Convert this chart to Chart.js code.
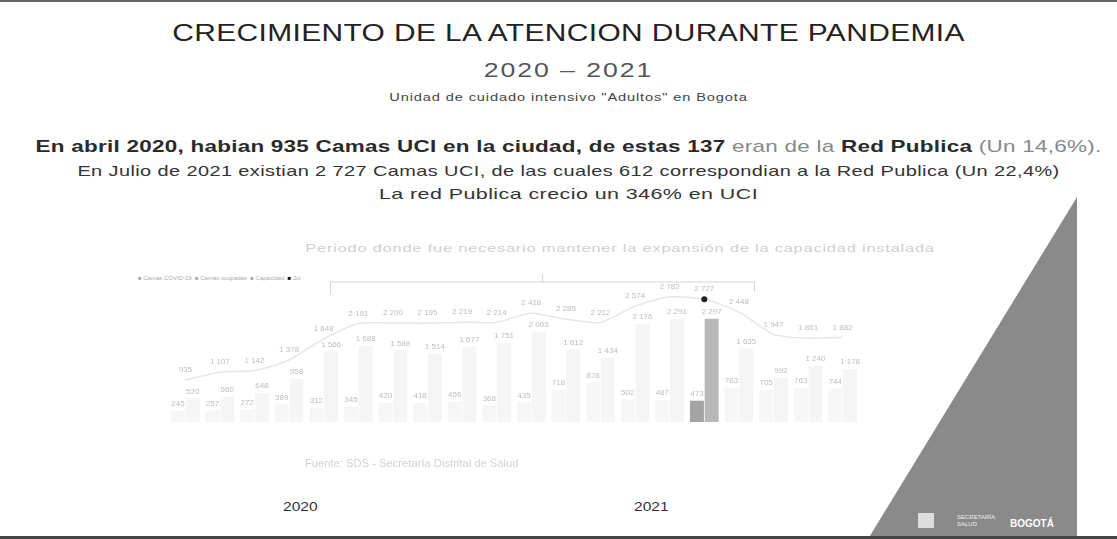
<!DOCTYPE html>
<html>
<head>
<meta charset="utf-8">
<script src="https://cdn.jsdelivr.net/npm/chart.js@4.4.1/dist/chart.umd.min.js"></script>
<style>
  body { margin: 0; background: #fff; }
  #slide {
    position: relative; width: 1117px; height: 539px; overflow: hidden;
    background: #fff; font-family: "Liberation Sans", Arial, sans-serif; color: #222;
    box-sizing: border-box; border-top: 2px solid #666; border-bottom: 3px solid #444;
  }
  .t { position: absolute; left: 10px; width: 1117px; text-align: center; white-space: nowrap; transform-origin: 50% 50%; }
  #titulo { top: 18px; font-size: 23px; letter-spacing: 0.3px; transform: scaleX(1.30); }
  #anios { top: 56px; font-size: 21px; color: #555; letter-spacing: 1.5px; transform: scaleX(1.27); }
  #unidad { top: 90px; font-size: 10px; color: #444; letter-spacing: 0.6px; transform: scaleX(1.46); }
  #linea1 { top: 135px; font-size: 17px; font-weight: bold; color: #2a2a2a; letter-spacing: 0.2px; transform: scaleX(1.32); }
  #linea2 { top: 160px; font-size: 15px; color: #333; letter-spacing: 0.3px; transform: scaleX(1.33); }
  #linea3 { top: 183px; font-size: 15px; color: #333; letter-spacing: 0.3px; transform: scaleX(1.43); }
  .claro { color: #888; font-weight: normal; }
  #periodo { top: 240px; left: 290px; width: 660px; font-size: 11px; color: #cfcfcf; letter-spacing: 0.5px; transform: scaleX(1.5); }
  #leyenda { position: absolute; left: 138px; top: 273px; font-size: 6px; color: #aaa; white-space: nowrap; }
  #leyenda b { color: #111; }
  #fuente { position: absolute; left: 305px; top: 456px; font-size: 10px; color: #d2d2d2; white-space: nowrap; transform-origin: 0 50%; transform: scaleX(1.12); }
  .anio { position: absolute; top: 497px; font-size: 13px; color: #333; transform-origin: 0 50%; transform: scaleX(1.2); }
  #grafico { position: absolute; left: 120px; top: 230px; width: 760px; height: 240px; }
  #triangulo {
    position: absolute; left: 868px; top: 195px; width: 209px; height: 342px;
    background: #8a8a8a; clip-path: polygon(100% 0, 100% 100%, 0 100%);
  }
  .logo { position: absolute; color: #eee; white-space: nowrap; }
</style>
</head>
<body>
<div id="slide">
  <div class="t" id="titulo">CRECIMIENTO DE LA ATENCION DURANTE PANDEMIA</div>
  <div class="t" id="anios">2020 – 2021</div>
  <div class="t" id="unidad">Unidad de cuidado intensivo "Adultos" en Bogota</div>
  <div class="t" id="linea1">En abril 2020, habian 935 Camas UCI en la ciudad, de estas 137 <span class="claro">eran de la</span> Red Publica <span class="claro">(Un 14,6%).</span></div>
  <div class="t" id="linea2">En Julio de 2021 existian 2 727 Camas UCI, de las cuales 612 correspondian a la Red Publica (Un 22,4%)</div>
  <div class="t" id="linea3">La red Publica crecio un 346% en UCI</div>

  <div id="triangulo"></div>
  <div class="logo" style="left:918px;top:511px;width:16px;height:15px;background:#ddd;"></div>
  <div class="logo" style="left:957px;top:512px;font-size:6px;line-height:7px;">SECRETARÍA<br>SALUD</div>
  <div class="logo" style="left:1010px;top:516px;font-size:10px;font-weight:bold;color:#fff;">BOGOTÁ</div>

  <div class="t" id="periodo">Periodo donde fue necesario mantener la expansión de la capacidad instalada</div>
  <div id="leyenda">■ Camas COVID-19 &nbsp;■ Camas ocupadas &nbsp;■ Capacidad &nbsp;<b>■</b> Jul</div>
  <div id="grafico"><canvas id="ucis"></canvas></div>
  <div id="fuente">Fuente: SDS - Secretaría Distrital de Salud</div>
  <div class="anio" style="left:283px;">2020</div>
  <div class="anio" style="left:634px;">2021</div>
</div>

<script>
// meses de abril 2020 a noviembre 2021
const meses = ['abr 2020', 'may 2020', 'jun 2020', 'jul 2020', 'ago 2020', 'sep 2020', 'oct 2020', 'nov 2020', 'dic 2020',
  'ene 2021', 'feb 2021', 'mar 2021', 'abr 2021', 'may 2021', 'jun 2021', 'jul 2021', 'ago 2021', 'sep 2021', 'oct 2021', 'nov 2021'];
const capacidadInstalada = [935, 1107, 1142, 1378, 1848, 2191, 2200, 2195, 2219, 2214, 2418, 2285, 2212, 2574, 2782, 2727, 2448, 1947, 1861, 1882];
const camasOcupadas = [520, 560, 648, 958, 1566, 1688, 1588, 1514, 1677, 1751, 2003, 1612, 1434, 2176, 2291, 2297, 1635, 992, 1240, 1178];
const ocupadasCovid = [245, 257, 272, 389, 312, 345, 420, 418, 456, 368, 435, 718, 878, 502, 487, 473, 763, 705, 763, 744];
const mesDestacado = 15; // julio 2021

function colores(normal, destacado) {
  return meses.map((m, i) => i === mesDestacado ? destacado : normal);
}

function formato(v) {
  if (v < 1000) return String(v);
  const resto = String(v % 1000).padStart(3, '0');
  return Math.floor(v / 1000) + ' ' + resto;
}

// etiquetas de valor encima de cada marca
const etiquetas = {
  id: 'etiquetas',
  afterDatasetsDraw(chart) {
    const ctx = chart.ctx;
    ctx.save();
    ctx.font = '8px "Liberation Sans", Arial';
    ctx.fillStyle = '#bdbdbd';
    ctx.textAlign = 'center';
    ctx.textBaseline = 'bottom';
    chart.data.datasets.forEach((ds, d) => {
      const meta = chart.getDatasetMeta(d);
      meta.data.forEach((el, i) => {
        const off = ds.type === 'line' ? 6 : 3;
        ctx.fillText(formato(ds.data[i]), el.x, el.y - off);
      });
    });
    ctx.restore();
  }
};

// llave sobre el periodo de expansion
const llave = {
  id: 'llave',
  afterDraw(chart) {
    const x = chart.scales.x, top = chart.chartArea.top;
    const paso = x.getPixelForValue(1) - x.getPixelForValue(0);
    const x0 = x.getPixelForValue(4) + paso * 0.2;
    const x1 = x.getPixelForValue(16) + paso * 0.45;
    const y = top - 5;
    const ctx = chart.ctx;
    ctx.save();
    ctx.strokeStyle = '#d4d4d4';
    ctx.lineWidth = 1;
    ctx.beginPath();
    ctx.moveTo(x0, y + 12); ctx.lineTo(x0, y); ctx.lineTo(x1, y); ctx.lineTo(x1, y + 10);
    const xm = (x0 + x1) / 2;
    ctx.moveTo(xm, y); ctx.lineTo(xm, y - 8);
    ctx.stroke();
    ctx.restore();
  }
};

new Chart(document.getElementById('ucis'), {
  data: {
    labels: meses,
    datasets: [
      {
        type: 'line',
        label: 'Capacidad instalada',
        data: capacidadInstalada,
        borderColor: '#e6e6e6',
        borderWidth: 1.5,
        tension: 0.2,
        pointRadius: colores(0, 3),
        pointBackgroundColor: '#222',
        pointBorderWidth: 0,
        order: 0
      },
      {
        type: 'bar',
        label: 'Camas UCI ocupadas COVID-19',
        data: ocupadasCovid,
        backgroundColor: colores('#f6f6f6', '#a4a4a4'),
        categoryPercentage: 0.85,
        barPercentage: 0.95,
        order: 1
      },
      {
        type: 'bar',
        label: 'Camas UCI ocupadas',
        data: camasOcupadas,
        backgroundColor: colores('#f5f5f5', '#b8b8b8'),
        categoryPercentage: 0.85,
        barPercentage: 0.95,
        order: 1
      }
    ]
  },
  options: {
    responsive: true,
    maintainAspectRatio: false,
    animation: false,
    layout: { padding: { left: 48, right: 20, top: 55, bottom: 50 } },
    plugins: { legend: { display: false }, tooltip: { enabled: false } },
    scales: {
      x: { display: false },
      y: { display: false, min: 0, max: 3000 }
    }
  },
  plugins: [etiquetas, llave]
});
</script>
</body>
</html>
